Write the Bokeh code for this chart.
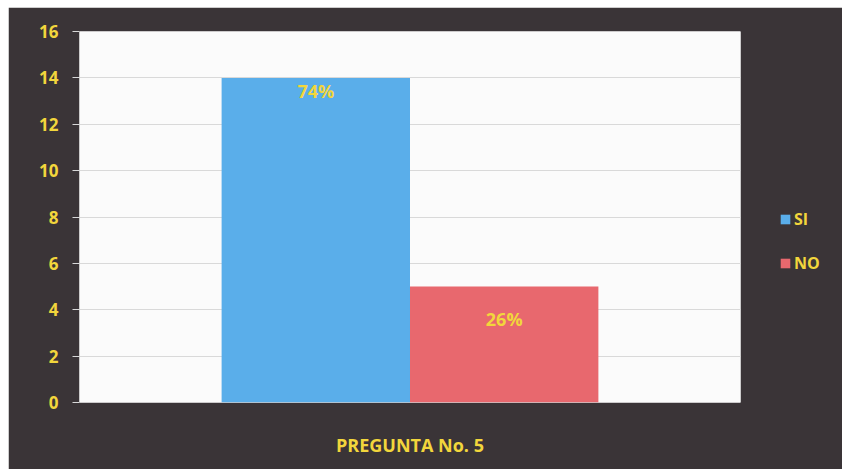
from bokeh.plotting import figure
from bokeh.models import ColumnDataSource, FactorRange, Legend, LegendItem, Range1d, FixedTicker
from bokeh.transform import dodge
from bokeh.core.properties import value
from bokeh.embed import file_html
from bokeh.resources import INLINE

categories = ["PREGUNTA No. 5"]
si_values = [14]
no_values = [5]
si_labels = ["74%"]
no_labels = ["26%"]
y_ticks = [0, 2, 4, 6, 8, 10, 12, 14, 16]

DARK = "#3a3437"
YELLOW = "#f2d63c"
BLUE = "#5aaeea"
RED = "#e8686e"
FONT = "Open Sans"

src = ColumnDataSource(dict(cat=categories, si=si_values, no=no_values,
                            si_lab=si_labels, no_lab=no_labels,
                            si_y=[v - 0.58 for v in si_values],
                            no_y=[v - 1.4 for v in no_values]))

p = figure(x_range=FactorRange(*categories), y_range=Range1d(0, 16),
           frame_width=661, frame_height=371, output_backend="svg", toolbar_location=None,
           min_border_left=71, min_border_right=102, min_border_top=24, min_border_bottom=67)
p.margin = (7, 0, 3, 8)
p.background_fill_color = "#fbfbfb"
p.border_fill_color = DARK
p.outline_line_color = None

w = 0.285
r1 = p.vbar(x=dodge("cat", -w / 2, range=p.x_range), top="si", width=w, source=src,
            fill_color=BLUE, line_color=None)
r2 = p.vbar(x=dodge("cat", w / 2, range=p.x_range), top="no", width=w, source=src,
            fill_color=RED, line_color=None)

p.text(x=dodge("cat", -w / 2, range=p.x_range), y="si_y", text="si_lab", source=src,
       text_color=YELLOW, text_font=value(FONT), text_font_style="bold",
       text_font_size="18px", text_align="center", text_baseline="middle")
p.text(x=dodge("cat", w / 2, range=p.x_range), y="no_y", text="no_lab", source=src,
       text_color=YELLOW, text_font=value(FONT), text_font_style="bold",
       text_font_size="18px", text_align="center", text_baseline="middle")

p.yaxis.ticker = FixedTicker(ticks=y_ticks)
p.yaxis.axis_line_color = None
p.yaxis.major_tick_line_color = "#d8d8d8"
p.yaxis.major_tick_out = 7
p.yaxis.major_tick_in = 0
p.yaxis.minor_tick_line_color = None
p.yaxis.major_label_text_color = YELLOW
p.yaxis.major_label_text_font = FONT
p.yaxis.major_label_text_font_style = "bold"
p.yaxis.major_label_text_font_size = "17px"
p.yaxis.major_label_standoff = 14

p.xaxis.axis_line_color = None
p.xaxis.major_tick_line_color = None
p.xaxis.major_label_text_color = YELLOW
p.xaxis.major_label_text_font = FONT
p.xaxis.major_label_text_font_style = "bold"
p.xaxis.major_label_text_font_size = "18px"
p.xaxis.major_label_standoff = 24

p.xgrid.grid_line_color = None
p.ygrid.grid_line_color = "#d9d9d9"
p.ygrid.grid_line_width = 1

legend = Legend(items=[LegendItem(label="SI", renderers=[r1]),
                       LegendItem(label="NO", renderers=[r2])],
                location=(39, 128), orientation="vertical",
                background_fill_alpha=0, border_line_color=None,
                label_text_color=YELLOW, label_text_font=FONT,
                label_text_font_style="bold", label_text_font_size="16px",
                glyph_width=12, glyph_height=12, spacing=22, label_standoff=3,
                label_height=20, padding=0, margin=0)
p.add_layout(legend, "right")

open("out.html", "w").write(file_html(p, INLINE))
